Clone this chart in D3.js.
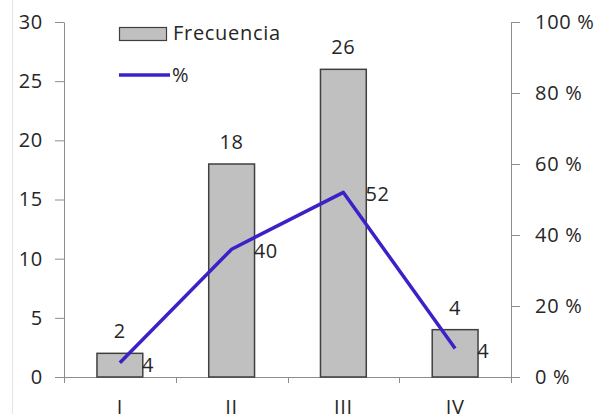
<!DOCTYPE html>
<html>
<head>
<meta charset="utf-8">
<script src="https://cdn.jsdelivr.net/npm/d3@7"></script>
<style>
  body { margin: 0; background: #fff; }
  text { font-family: "Open Sans", sans-serif; fill: #262626; letter-spacing: 0.7px; }
</style>
</head>
<body>
<div id="chart"></div>
<script>
// data
var categories = ["I", "II", "III", "IV"];
var frecuencia = [2, 18, 26, 4];
var porcentaje = [4, 36, 52, 8];          // where the line sits on the right axis
var pctLabels = ["4", "40", "52", "4"];   // labels printed next to the line points
var leftTicks = [0, 5, 10, 15, 20, 25, 30];
var rightTicks = [0, 20, 40, 60, 80, 100];

var W = 598, H = 414;
var plotLeft = 64, plotRight = 511, plotTop = 22, plotBottom = 377;
var fs = "20px";

var svg = d3.select("#chart").append("svg")
  .attr("width", W).attr("height", H);

// faint frame edge on the left
svg.append("line")
  .attr("x1", 12.5).attr("x2", 12.5).attr("y1", 0).attr("y2", H)
  .attr("stroke", "#e4e4e4");

var xCat = d3.scaleBand().domain(categories).range([plotLeft, plotRight]).padding(0);
var x = d3.scaleBand().domain(categories).range([plotLeft, plotRight])
  .paddingInner(0.59).paddingOuter(0.295);
var yL = d3.scaleLinear().domain([0, 30]).range([plotBottom, plotTop]);
var yR = d3.scaleLinear().domain([0, 100]).range([plotBottom, plotTop]);

var axisColor = "#8c8c8c";

// left axis
var gL = svg.append("g").attr("transform", "translate(" + plotLeft + ",0)")
  .call(d3.axisLeft(yL).tickValues(leftTicks).tickSize(9).tickSizeOuter(0).tickPadding(12));
// right axis
var gR = svg.append("g").attr("transform", "translate(" + plotRight + ",0)")
  .call(d3.axisRight(yR).tickValues(rightTicks).tickSize(9).tickSizeOuter(0).tickPadding(15)
    .tickFormat(function(d) { return d + " %"; }));

[gL, gR].forEach(function(g) {
  g.selectAll("path, line").attr("stroke", axisColor);
  g.selectAll("text").style("font-size", fs).attr("fill", "#262626")
    .style("font-family", '"Open Sans", sans-serif');
});

// bottom axis: line, boundary ticks and labels
svg.append("line")
  .attr("x1", plotLeft).attr("x2", plotRight)
  .attr("y1", plotBottom + 0.5).attr("y2", plotBottom + 0.5)
  .attr("stroke", axisColor);
var bounds = categories.map(function(c) { return xCat(c); }).concat([plotRight]);
svg.selectAll(".xtick").data(bounds).enter().append("line")
  .attr("class", "xtick")
  .attr("x1", function(d) { return Math.round(d) + 0.5; })
  .attr("x2", function(d) { return Math.round(d) + 0.5; })
  .attr("y1", plotBottom).attr("y2", plotBottom + 6)
  .attr("stroke", axisColor);
svg.selectAll(".xlab").data(categories).enter().append("text")
  .attr("class", "xlab")
  .attr("x", function(d) { return xCat(d) + xCat.bandwidth() / 2; })
  .attr("y", 414)
  .attr("text-anchor", "middle")
  .style("font-size", fs)
  .text(function(d) { return d; });

// bars
svg.selectAll(".bar").data(frecuencia).enter().append("rect")
  .attr("class", "bar")
  .attr("x", function(d, i) { return x(categories[i]); })
  .attr("width", x.bandwidth())
  .attr("y", function(d) { return yL(d); })
  .attr("height", function(d) { return yL(0) - yL(d); })
  .attr("fill", "#c0c0c0")
  .attr("stroke", "#3f3f3f")
  .attr("stroke-width", 1.5);

svg.selectAll(".barlab").data(frecuencia).enter().append("text")
  .attr("class", "barlab")
  .attr("x", function(d, i) { return x(categories[i]) + x.bandwidth() / 2; })
  .attr("y", function(d) { return yL(d) - 15; })
  .attr("text-anchor", "middle")
  .style("font-size", fs)
  .text(function(d) { return d; });

// % line
var cx = function(i) { return xCat(categories[i]) + xCat.bandwidth() / 2; };
var line = d3.line()
  .x(function(d, i) { return cx(i); })
  .y(function(d) { return yR(d); });

svg.append("path")
  .datum(porcentaje)
  .attr("d", line)
  .attr("fill", "none")
  .attr("stroke", "#3a22c8")
  .attr("stroke-width", 3.5)
  .attr("stroke-linejoin", "round");

svg.selectAll(".pctlab").data(porcentaje).enter().append("text")
  .attr("class", "pctlab")
  .attr("x", function(d, i) { return cx(i) + 22; })
  .attr("y", function(d) { return yR(d) + 9; })
  .style("font-size", fs)
  .text(function(d, i) { return pctLabels[i]; });

// legend
var lg = svg.append("g");
lg.append("rect")
  .attr("x", 119.5).attr("y", 27.5).attr("width", 47).attr("height", 13)
  .attr("fill", "#c0c0c0").attr("stroke", "#3f3f3f").attr("stroke-width", 1.2);
lg.append("text")
  .attr("x", 173).attr("y", 40)
  .style("font-size", fs)
  .text("Frecuencia");
lg.append("line")
  .attr("x1", 119).attr("x2", 170).attr("y1", 75).attr("y2", 75)
  .attr("stroke", "#3a22c8").attr("stroke-width", 3.5);
lg.append("text")
  .attr("x", 172).attr("y", 82)
  .style("font-size", fs)
  .text("%");
</script>
</body>
</html>
